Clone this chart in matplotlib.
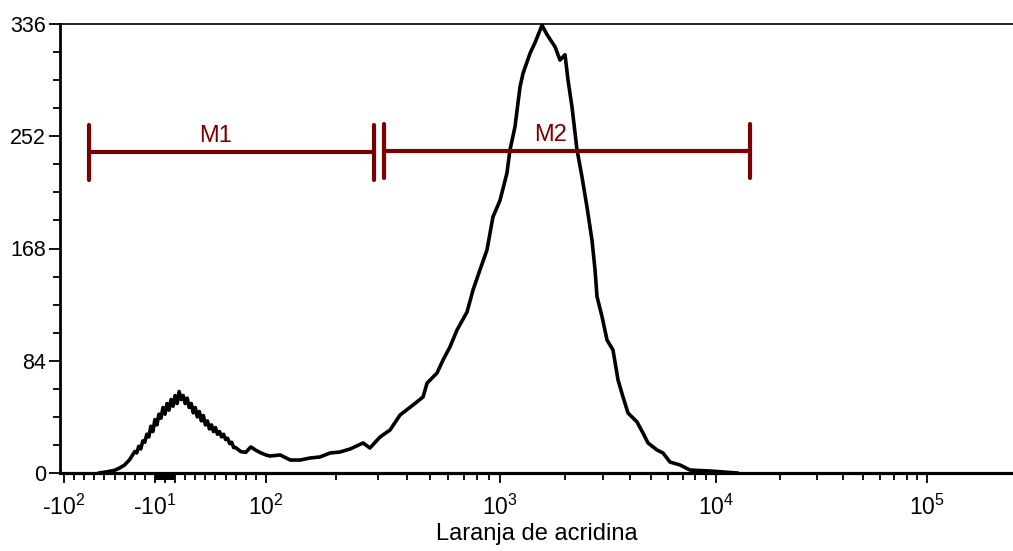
import numpy as np
import matplotlib
matplotlib.use("Agg")
import matplotlib.pyplot as plt

plt.rcParams["font.family"] = ["Liberation Sans", "DejaVu Sans"]
plt.rcParams["mathtext.default"] = "regular"

# Histogram (fluorescence value, event count)
hist_x = [-65, -58, -50, -45, -40, -35,
          -30, -28, -26, -24, -22, -20, -18, -16, -14, -12, -10, -8, -6, -4, -2,
          0, 2, 4, 6, 8, 10, 12, 14, 16, 18, 20, 22, 24, 26, 28, 30, 32, 34, 36,
          38, 40, 42, 44, 46, 48, 50, 52, 54, 56, 58, 60, 62, 64, 66, 68, 70,
          75, 80, 85, 90, 95, 100, 104, 115, 127, 140, 154, 170, 188, 207, 229,
          260, 278, 307, 339, 374, 425, 469, 488, 538, 571, 611, 655, 723, 767,
          821, 880, 933, 1000, 1077, 1112, 1173, 1238, 1278, 1377, 1452, 1565,
          1651, 1797, 1896, 2000, 2065, 2154, 2272, 2397, 2528, 2667, 2754, 2813,
          2967, 3130, 3336, 3519, 3711, 3914, 4308, 4592, 4844, 5333, 5684, 6124,
          6813, 7579, 9380, 12570]
hist_counts = [0, 0.8, 2, 3.7, 6, 10,
               16, 15, 20, 18, 24, 23, 29, 27, 35, 31, 40, 36, 44, 41, 49,
               44, 52, 47, 55, 50, 58, 52, 61, 55, 58, 52, 56, 49, 52, 45, 49, 42, 46, 39,
               43, 36, 39, 33, 36, 31, 34, 29, 31, 27, 29, 25, 26, 22, 23, 19, 19,
               16, 15.5, 19.5, 17, 15, 13.5, 12.7, 13.5, 9.7, 9.7, 11.2, 12, 15, 15.7, 18,
               22.5, 18.7, 26.9, 32.2, 43.4, 50.9, 56.9, 67.3, 74.8, 84.6, 94.3, 107, 120.5, 137,
               152, 167, 191.6, 204, 224.5, 241.7, 259, 289, 299, 314, 322, 335,
               328, 319, 309, 313, 294, 274, 242, 221.5, 199, 174, 152, 132,
               117, 99.5, 92, 69.6, 56.9, 44.9, 38.2, 29.9, 22.5, 17.2, 15, 8.2,
               6, 2.2, 1.5, 0]

# Markers (gates)
gate_names = ["M1", "M2"]
gate_left = [-75, 319]
gate_right = [289, 14490]
gate_y = [240, 241]

y_ticks = [0, 84, 168, 252, 336]
x_major = [-100, -10, 0, 10, 100, 1e3, 1e4, 1e5]
x_labels = ["-$10^{2}$", "-$10^{1}$", "", "", "$10^{2}$", "$10^{3}$", "$10^{4}$", "$10^{5}$"]

# Logicle-like display scale: linear within +-100, log decades outside
scale_vals = np.array([-1e3, -100, 0, 100, 1e3, 1e4, 1e5, 1e6])
scale_pos = np.array([-170, 64, 165, 266, 500, 716, 927, 1138])


def _sym(v):
    v = np.asarray(v, dtype=float)
    a = np.maximum(np.abs(v), 1e-12)
    with np.errstate(divide="ignore", invalid="ignore"):
        out = np.where(a <= 100, v, np.sign(v) * 100 * (1 + np.log(a / 100)))
    return out


def _unsym(s):
    s = np.asarray(s, dtype=float)
    a = np.abs(s)
    with np.errstate(over="ignore", invalid="ignore"):
        out = np.where(a <= 100, s, np.sign(s) * 100 * np.exp(a / 100 - 1))
    return out


SV = _sym(scale_vals)


def fwd(x):
    return np.interp(_sym(x), SV, scale_pos)


def inv(p):
    return _unsym(np.interp(p, scale_pos, SV))


fig = plt.figure(figsize=(10.13, 5.51), dpi=100)
ax = fig.add_axes([60 / 1013, 78 / 551, 1 - 60 / 1013, (473 - 24) / 551])
ax.set_xscale("function", functions=(fwd, inv))

ax.plot(hist_x, hist_counts, color="black", lw=2.6, solid_joinstyle="round")

red = "#7d0000"
cap = 20.5
for name, l, r, y in zip(gate_names, gate_left, gate_right, gate_y):
    ax.plot([l, r], [y, y], color=red, lw=3, solid_capstyle="round")
    for xe in (l, r):
        ax.plot([xe, xe], [y - cap, y + cap], color=red, lw=3, solid_capstyle="round")
    xm = inv((fwd(l) + fwd(r)) / 2)
    ax.annotate(name, (xm, y), xytext=(0, 7.5), textcoords="offset points",
                ha="right", va="baseline", fontsize=17, color=red)

ax.set_xlim(inv(60), inv(1013))
ax.set_ylim(0, 336)

minors = [-v for v in range(20, 100, 10)] + [-v for v in range(1, 10)] + list(range(1, 10))
minors += [m * 10 ** e for e in range(1, 5) for m in range(2, 10)]
ax.set_xticks(x_major, x_labels)
ax.set_xticks(minors, minor=True)
ax.set_yticks(y_ticks)
ax.set_yticks(np.arange(0, 337, 21), minor=True)

ax.tick_params(axis="x", which="major", length=7.5, width=1.3, pad=8, labelsize=16.5)
ax.tick_params(axis="x", which="minor", length=5, width=1.3)
ax.tick_params(axis="y", which="major", length=8, width=1.3, pad=2, labelsize=15.5)
ax.tick_params(axis="y", which="minor", length=5, width=1.3)

ax.spines["right"].set_visible(False)
ax.spines["top"].set_linewidth(1.2)
ax.spines["left"].set_linewidth(2)
ax.spines["bottom"].set_linewidth(2.3)

ax.set_xlabel("Laranja de acridina", fontsize=17, labelpad=2)

fig.savefig("out.png", dpi=100)
